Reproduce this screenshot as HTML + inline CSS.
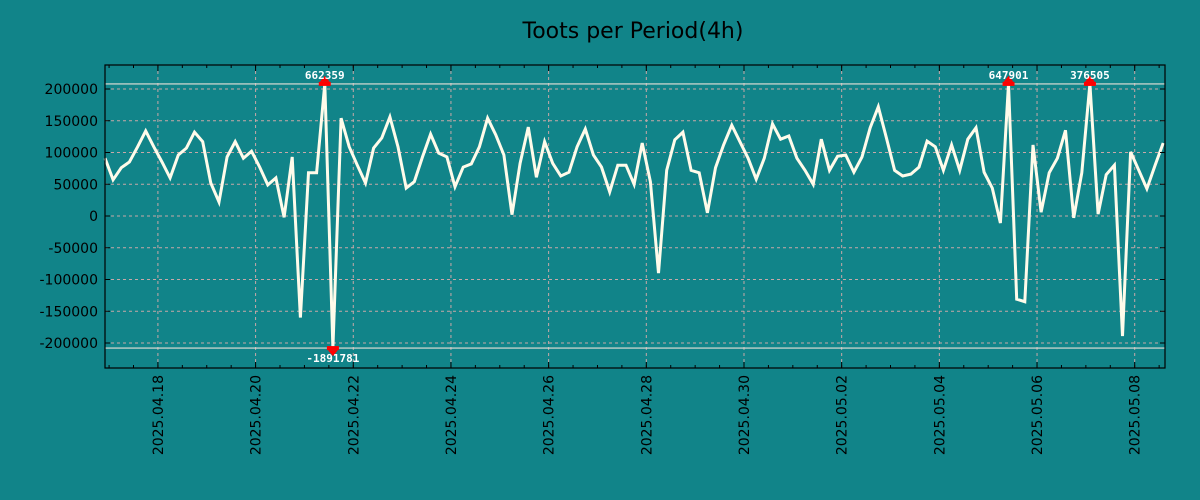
<!DOCTYPE html>
<html><head><meta charset="utf-8"><style>
body{margin:0;background:#118489;}
svg{display:block;font-family:"DejaVu Sans","Liberation Sans",sans-serif;}
</style></head><body>
<svg id="chart" width="1200" height="500" viewBox="0 0 1200 500">
<rect x="0" y="0" width="1200" height="500" fill="#118489"/>
<text x="633" y="38" text-anchor="middle" font-size="22" fill="#000">Toots per Period(4h)</text>
<g id="grid"></g>
<g id="series"></g>
<g id="axes"></g>
</svg>
<script>
const values = [91,57,76,85,109,134,109,85,60,96,107,132,117,52,22,93,117,91,102,77,49,60,-2,93,-160,68,68,662.359,-1891.781,154,109,80,52,107,123,156,109,44,54,93,129,99,93,46,77,82,109,154,128,96,2,83,140,61,117,83,63,69,109,137,96,77,38,80,80,50,115,54,-90,72,120,132,72,68,5,76,112,143,117,91,58,91,145,121,126,91,72,50,121,72,94,96,69,93,139,172,123,72,63,66,77,118,109,72,112,72,121,139,69,44,-11,647.901,-131,-135,112,6,68,91,135,-3,68,376.505,3,65,80,-189,101,72,43,80,115];
const yTicks = [200000,150000,100000,50000,0,-50000,-100000,-150000,-200000];
const xTickLabels = ["2025.04.18","2025.04.20","2025.04.22","2025.04.24","2025.04.26","2025.04.28","2025.04.30","2025.05.02","2025.05.04","2025.05.06","2025.05.08"];
const xTickHours = [26,74,122,170,218,266,314,362,410,458,506];
const clipValue = 208000;

const L=105,R=1165,T=65,B=368,STEP=8.14;
const NS="http://www.w3.org/2000/svg";
function xh(h){return L+h/4*STEP;}
function xi(i){return L+i*STEP;}
function y(v){return 216-v*0.000635;}
function mk(tag,attrs,parent){const e=document.createElementNS(NS,tag);for(const k in attrs)e.setAttribute(k,attrs[k]);parent.appendChild(e);return e;}
const grid=document.getElementById('grid'),axes=document.getElementById('axes'),series=document.getElementById('series');

yTicks.forEach(v=>{
  const gl=mk('line',{x1:L,x2:R,y1:y(v),y2:y(v),stroke:'#c8a8a8','stroke-width':1,'stroke-dasharray':'3,3'},grid);
  
  
  mk('line',{x1:L,x2:L+5,y1:y(v),y2:y(v),stroke:'#000'},axes);
  mk('line',{x1:R,x2:R-5,y1:y(v),y2:y(v),stroke:'#000'},axes);
  const t=mk('text',{x:L-7,y:y(v)+5,'text-anchor':'end','font-size':14,fill:'#000'},axes);
  t.textContent=v;
  
  
});
xTickHours.forEach((h,i)=>{
  const x=xh(h);
  const gl=mk('line',{x1:x,x2:x,y1:T,y2:B,stroke:'#c8a8a8','stroke-width':1,'stroke-dasharray':'3,3'},grid);
  
  
  mk('line',{x1:x,x2:x,y1:B,y2:B-6,stroke:'#000'},axes);
  mk('line',{x1:x,x2:x,y1:T,y2:T+6,stroke:'#000'},axes);
  const t=mk('text',{x:0,y:0,'text-anchor':'end','font-size':14,fill:'#000',transform:`translate(${x+5},${B+7}) rotate(-90)`},axes);
  t.textContent=xTickLabels[i];
  
  
});
for(let h=2;h<530;h+=12){const x=xh(h);if(x<L||x>R)continue;
  mk('line',{x1:x,x2:x,y1:B,y2:B-3,stroke:'#000'},axes);
  mk('line',{x1:x,x2:x,y1:T,y2:T+3,stroke:'#000'},axes);}
[clipValue,-clipValue].forEach(v=>{
  const l=mk('line',{x1:L,x2:R,y1:y(v),y2:y(v),stroke:'#e8e0d8','stroke-width':1.2},grid);
  
  
});
const pts=values.map((v,i)=>{const vv=Math.max(-clipValue,Math.min(clipValue,v*1000));return xi(i).toFixed(1)+','+y(vv).toFixed(1);});
const pl=mk('polyline',{points:pts.join(' '),fill:'none',stroke:'#fffbea','stroke-width':3,'stroke-linejoin':'miter'},series);


values.forEach((v,i)=>{
  const val=v*1000;
  if(Math.abs(val)<=clipValue)return;
  const x=xi(i),up=val>0,yy=y(up?clipValue:-clipValue);
  const g=mk('g',{},series);
  
  
  mk('rect',{x:x-6,y:up?yy-2:yy-2,width:12,height:4,fill:'#ff0000'},g);
  if(up)mk('polygon',{points:`${x-5},${yy-2} ${x+5},${yy-2} ${x},${yy-8}`,fill:'#ff0000'},g);
  else mk('polygon',{points:`${x-5},${yy+2} ${x+5},${yy+2} ${x},${yy+8}`,fill:'#ff0000'},g);
  const t=mk('text',{x:x,y:up?yy-5:yy+14,'text-anchor':'middle','font-size':11,'font-weight':'bold',fill:'#fff','font-family':'"DejaVu Sans Mono","Liberation Mono",monospace'},g);
  t.textContent=Math.round(val);
});
const frame=mk('rect',{x:L,y:T,width:R-L,height:B-T,fill:'none',stroke:'#000','stroke-width':1.2},axes);


</script>
</body></html>
